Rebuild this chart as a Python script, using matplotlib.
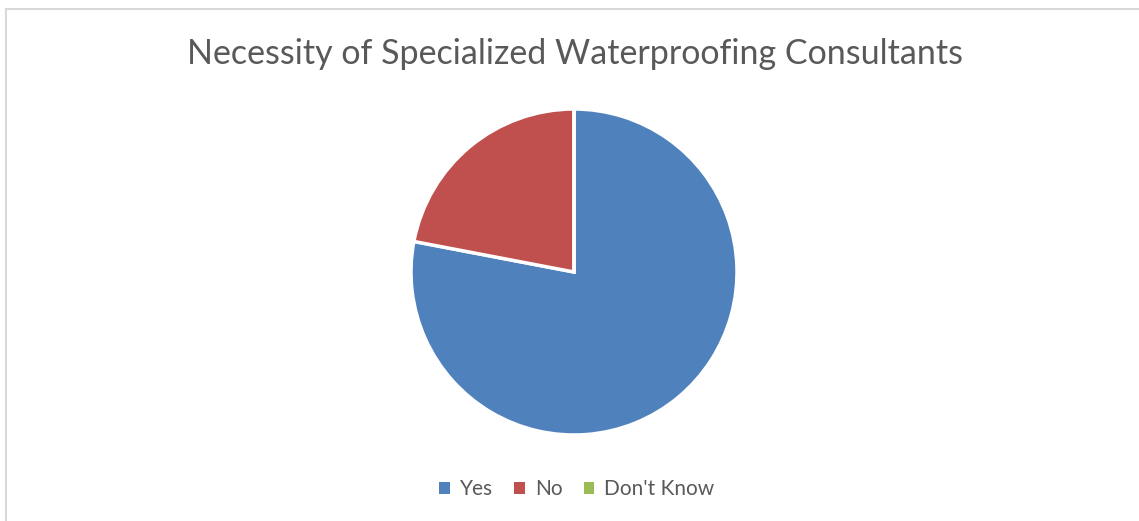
import matplotlib.pyplot as plt
from matplotlib.lines import Line2D
from matplotlib.patches import Patch

labels = ["Yes", "No", "Don't Know"]
values = [78, 22, 0]
colors = ["#4F81BD", "#C0504D", "#9BBB59"]

plt.rcParams['font.family'] = ['Lato', 'DejaVu Sans']

fig = plt.figure(figsize=(11.39, 5.21), dpi=100)
W, H = 1139, 521

# chart border (top and left visible)
fig.add_artist(Line2D([6 / W, 6 / W], [0, 1 - 9 / H], color="#D9D9D9", lw=1.5))
fig.add_artist(Line2D([6 / W, 1], [1 - 9 / H, 1 - 9 / H], color="#D9D9D9", lw=1.5))

cx, cy, r = 574, 272, 163
ax = fig.add_axes([(cx - r) / W, (H - cy - r) / H, 2 * r / W, 2 * r / H])
ax.pie(values, colors=colors, startangle=90, counterclock=False,
       wedgeprops=dict(edgecolor="white", linewidth=2.5))
ax.set_xlim(-1, 1)
ax.set_ylim(-1, 1)
ax.axis("off")

fig.text(575 / W, 1 - 54 / H, "Necessity of Specialized Waterproofing Consultants",
         ha="center", va="center", fontsize=24.5, color="#595959")

handles = [Patch(facecolor=c, edgecolor="none") for c in colors]
fig.legend(handles, labels, loc="center", bbox_to_anchor=(577 / W, 1 - 489 / H),
           ncol=3, frameon=False, fontsize=15, labelcolor="#595959",
           handlelength=0.5, handleheight=0.5, handletextpad=0.5, columnspacing=1.0)

fig.savefig("out.png", dpi=100)
